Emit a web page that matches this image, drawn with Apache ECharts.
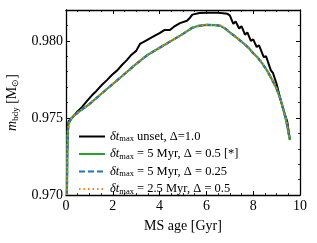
<!DOCTYPE html>
<html><head><meta charset="utf-8">
<script src="https://cdn.jsdelivr.net/npm/echarts@6/dist/echarts.min.js"></script>
<style>html,body{margin:0;padding:0;background:#fff}#c{width:317px;height:243px}</style>
</head><body><div id="c"></div>
<script>
// Data
var blackX = [0.04, 0.05, 0.07, 0.12, 0.26, 0.45, 0.68, 0.9, 1.1, 1.3, 1.54, 1.75, 1.97, 2.2, 2.4, 2.6, 2.8, 3.0, 3.16, 3.4, 3.7, 4.0, 4.2, 4.44, 4.6, 4.87, 5.17, 5.3, 5.4, 5.7, 6.0, 6.5, 6.9, 7.0, 7.15, 7.25, 7.4, 7.5, 7.65, 7.75, 7.9, 8.0, 8.15, 8.25, 8.45, 8.55, 8.75, 8.85, 9.0, 9.05, 9.2, 9.25, 9.4, 9.45, 9.57];
var blackY = [0.9700, 0.9725, 0.9745, 0.9748, 0.9750, 0.97535, 0.9757, 0.9761, 0.97645, 0.97675, 0.97715, 0.97745, 0.9778, 0.9781, 0.97845, 0.97875, 0.9791, 0.97935, 0.9798, 0.9800, 0.98025, 0.9805, 0.9807, 0.9807, 0.9809, 0.98115, 0.9813, 0.9815, 0.9817, 0.9818, 0.98182, 0.98182, 0.98175, 0.98165, 0.98110, 0.98125, 0.98080, 0.98095, 0.98040, 0.98055, 0.98000, 0.98010, 0.97960, 0.97970, 0.97895, 0.97900, 0.97810, 0.97790, 0.97720, 0.97725, 0.97600, 0.97610, 0.97500, 0.97480, 0.97357];
var colX = [0.04, 0.05, 0.07, 0.11, 0.2, 0.3, 0.6, 1.0, 1.5, 2.0, 2.5, 3.0, 3.5, 4.0, 4.5, 5.0, 5.4, 5.6, 6.0, 6.4, 6.6, 6.8, 7.0, 7.2, 7.5, 7.8, 8.0, 8.2, 8.4, 8.6, 8.8, 9.0, 9.2, 9.4, 9.57];
var colY = [0.9700, 0.9725, 0.9740, 0.9746, 0.9749, 0.9751, 0.97545, 0.9759, 0.97655, 0.9772, 0.97785, 0.9785, 0.9791, 0.97955, 0.9800, 0.98045, 0.98085, 0.98095, 0.98104, 0.98102, 0.98097, 0.9808, 0.98055, 0.98032, 0.97995, 0.97955, 0.9792, 0.9789, 0.9785, 0.97805, 0.9775, 0.9769, 0.97605, 0.9749, 0.97357];
var seriesNames = ['unset', 'star', 'd025', 'dt25'];
var legendLabels = {
  unset: '{i|δt}{s|max}{n| unset, Δ=1.0}',
  star: '{i|δt}{s|max}{n| = 5 Myr, Δ = 0.5 [*]}',
  d025: '{i|δt}{s|max}{n| = 5 Myr, Δ = 0.25}',
  dt25: '{i|δt}{s|max}{n| = 2.5 Myr, Δ = 0.5}'
};
var xTicks = [0, 2, 4, 6, 8, 10];
var yTicks = ['0.970', '0.975', '0.980'];

function pairs(xs, ys){ return xs.map(function(x,i){return [x, ys[i]];}); }
var F = 'Liberation Serif';
var chart = echarts.init(document.getElementById('c'));
var axisLine = {show: true, onZero: false, lineStyle: {color: '#000', width: 1.3}};
var axisTick = {show: true, inside: true, length: 4, lineStyle: {color: '#000', width: 1}};
function minor(n){ return {show: true, length: 2, splitNumber: n, lineStyle: {color: '#000', width: 0.8}}; }
var rich = {
  i: {fontFamily: F, fontStyle: 'italic', fontSize: 12.5, color: '#000', lineHeight: 14},
  s: {fontFamily: F, fontSize: 8.5, color: '#000', verticalAlign: 'bottom', lineHeight: 9},
  n: {fontFamily: F, fontSize: 12.5, color: '#000', lineHeight: 14}
};
chart.setOption({
  animation: false,
  grid: {left: 66, right: 17, top: 10, bottom: 48, containLabel: false, outerBoundsMode: 'none'},
  legend: {
    orient: 'vertical', left: 73, top: 125, itemWidth: 26, itemHeight: 10, itemGap: 4,
    data: seriesNames,
    itemStyle: {color: 'rgba(0,0,0,0)', borderWidth: 0, opacity: 0},
    formatter: function(n){ return legendLabels[n]; },
    textStyle: {rich: rich, fontFamily: F, fontSize: 12.5, color: '#000'}
  },
  xAxis: [
    {type: 'value', min: 0, max: 10, interval: 2, position: 'bottom',
      axisLine: axisLine, axisTick: axisTick, minorTick: minor(4), splitLine: {show: false},
      axisLabel: {fontFamily: F, fontSize: 14, color: '#000', margin: 4,
        formatter: function(v){ return xTicks.indexOf(v) >= 0 ? String(v) : ''; }},
      name: 'MS age [Gyr]', nameLocation: 'middle', nameGap: 24,
      nameTextStyle: {fontFamily: F, fontSize: 14, color: '#000'}
    },
    {type: 'value', min: 0, max: 10, interval: 2, position: 'top',
      axisLine: axisLine, axisTick: axisTick, minorTick: minor(4),
      axisLabel: {show: false}, splitLine: {show: false}}
  ],
  yAxis: [
    {type: 'value', min: 0.970, max: 0.982, interval: 0.005, position: 'left',
      axisLine: axisLine, axisTick: axisTick, minorTick: minor(5), splitLine: {show: false},
      axisLabel: {fontFamily: F, fontSize: 14, color: '#000', margin: 3, showMaxLabel: false,
        formatter: function(v){ var s = v.toFixed(3); return yTicks.indexOf(s) >= 0 ? s : ''; }},
      name: '{i|m}{s|bdy}{n| [M}{s|⊙}{n|]}', nameLocation: 'middle', nameGap: 44, nameRotate: 90,
      nameTextStyle: {rich: {
        i: {fontFamily: F, fontStyle: 'italic', fontSize: 14, color: '#000', lineHeight: 16},
        s: {fontFamily: F, fontSize: 9, color: '#000', verticalAlign: 'bottom', lineHeight: 10},
        n: {fontFamily: F, fontSize: 14, color: '#000', lineHeight: 16}
      }}
    },
    {type: 'value', min: 0.970, max: 0.982, interval: 0.005, position: 'right',
      axisLine: axisLine, axisTick: axisTick, minorTick: minor(5),
      splitLine: {show: false}, axisLabel: {show: false}}
  ],
  series: [
    {name: 'unset', type: 'line', data: pairs(blackX, blackY), symbol: 'none',
      lineStyle: {color: '#000', width: 2}, itemStyle: {color: '#000'}, z: 2},
    {name: 'star', type: 'line', data: pairs(colX, colY), symbol: 'none',
      lineStyle: {color: '#2ca02c', width: 2.2}, itemStyle: {color: '#2ca02c'}, z: 3},
    {name: 'd025', type: 'line', data: pairs(colX, colY), symbol: 'none',
      lineStyle: {color: '#1f77b4', width: 2.2, type: [6, 3]}, itemStyle: {color: '#1f77b4'}, z: 4},
    {name: 'dt25', type: 'line', data: pairs(colX, colY), symbol: 'none',
      lineStyle: {color: '#ff7f0e', width: 1.8, type: [1.5, 3]}, itemStyle: {color: '#ff7f0e'}, z: 5}
  ]
});
</script></body></html>
